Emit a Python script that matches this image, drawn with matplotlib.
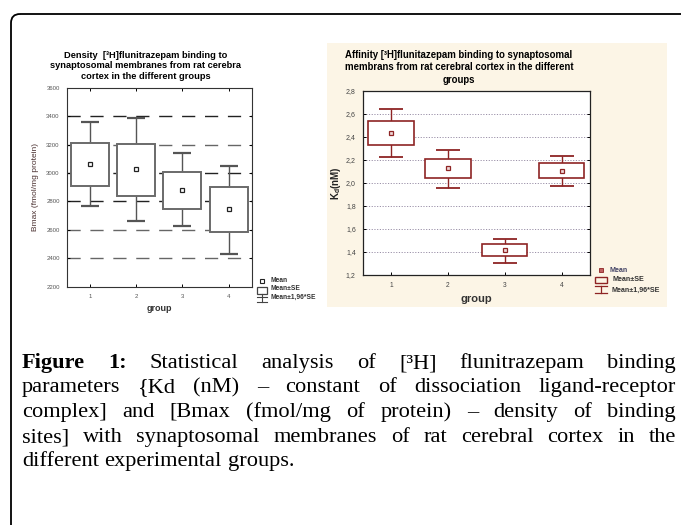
import matplotlib
matplotlib.use('Agg')
import matplotlib.pyplot as plt
from matplotlib.patches import Rectangle, FancyBboxPatch

plt.rcParams['font.family'] = ['Liberation Sans', 'DejaVu Sans']
plt.rcParams['mathtext.fontset'] = 'custom'
plt.rcParams['mathtext.rm'] = 'Liberation Sans:bold'
plt.rcParams['mathtext.bf'] = 'Liberation Sans:bold'

# ---------------- datos ----------------
groups = [1, 2, 3, 4]

# Bmax (fmol/mg protein)
bmax_mean = [3065, 3025, 2882, 2745]
bmax_se_low = [2910, 2840, 2748, 2583]
bmax_se_high = [3213, 3207, 3008, 2899]
bmax_ci_low = [2768, 2662, 2625, 2428]
bmax_ci_high = [3360, 3384, 3138, 3047]
bmax_ticks = [2200, 2400, 2600, 2800, 3000, 3200, 3400, 3600]

# Kd (nM)
kd_mean = [2.435, 2.129, 1.417, 2.105]
kd_se_low = [2.325, 2.039, 1.365, 2.039]
kd_se_high = [2.537, 2.209, 1.466, 2.172]
kd_ci_low = [2.224, 1.958, 1.307, 1.975]
kd_ci_high = [2.641, 2.288, 1.512, 2.236]
kd_ticks = [1.2, 1.4, 1.6, 1.8, 2.0, 2.2, 2.4, 2.6, 2.8]

caption_lines = [
    ["Figure", "1:", "Statistical", "analysis", "of", "[³H]", "flunitrazepam", "binding"],
    "parameters {Kd (nM) – constant of dissociation ligand-receptor".split(),
    "complex] and [Bmax (fmol/mg of protein) – density of binding".split(),
    "sites] with synaptosomal membranes of rat cerebral cortex in the".split(),
    "different experimental groups.".split(),
]

W, H = 681, 525
fig = plt.figure(figsize=(W / 100, H / 100), dpi=100)

# capa de fondo en coordenadas de pixel
bg = fig.add_axes([0, 0, 1, 1], zorder=0)
bg.set_xlim(0, W)
bg.set_ylim(H, 0)
bg.axis('off')

# marco exterior redondeado
bg.add_patch(FancyBboxPatch((11, 14), 720, 560, boxstyle='round,pad=0,rounding_size=9',
                            fill=False, edgecolor='black', lw=1.3, clip_on=False))
# fondo crema del panel derecho
bg.add_patch(Rectangle((327, 43), 340, 264, facecolor='#fcf5e6', edgecolor='none'))


def px_axes(x0, y0, x1, y1):
    return fig.add_axes([x0 / W, 1 - y1 / H, (x1 - x0) / W, (y1 - y0) / H], zorder=1)


# ================= panel izquierdo: Bmax =================
ax1 = px_axes(66.7, 87.7, 251.7, 286.7)
ax1.set_facecolor('white')
ax1.set_xlim(0.5, 4.5)
ax1.set_ylim(2200, 3600)
for i, v in enumerate(bmax_ticks[1:-1]):
    col = '#222222' if v in (3400, 3000, 2800) else '#666666'
    ln = ax1.axhline(v, color=col, lw=1.0, zorder=0)
    ln.set_dashes([9.5, 7])
ax1.errorbar(groups, bmax_mean,
             yerr=[[m - l for m, l in zip(bmax_mean, bmax_ci_low)],
                   [h - m for m, h in zip(bmax_mean, bmax_ci_high)]],
             fmt='none', ecolor='#555555', elinewidth=1.0, capsize=6.5, capthick=1.6, zorder=1)
ax1.bar(groups, [h - l for h, l in zip(bmax_se_high, bmax_se_low)], bottom=bmax_se_low,
        width=0.82, facecolor='white', edgecolor='#6a6a6a', lw=1.4, zorder=2)
ax1.plot(groups, bmax_mean, 's', ms=2.6, mfc='white', mec='#222222', mew=0.9, zorder=3)
ax1.set_yticks(bmax_ticks)
ax1.set_yticklabels([str(t) for t in bmax_ticks], fontsize=4.3, color='#555555')
ax1.set_xticks(groups)
ax1.set_xticklabels([str(g) for g in groups], fontsize=4.3, color='#555555')
ax1.tick_params(direction='in', length=2.5, width=0.7, top=True, right=True, pad=5)
for s in ax1.spines.values():
    s.set_linewidth(0.8)
    s.set_color('#333333')
ax1.set_xlabel('group', fontsize=6.5, fontweight='bold', color='#333333', labelpad=4)
ax1.set_ylabel('Bmax (fmol/mg protein)', fontsize=6, color='#4a3030', labelpad=5)
fig.text(146 / W, 1 - 66 / H,
         'Density  [³H]flunitrazepam binding to\nsynaptosomal membranes from rat cerebra\ncortex in the different groups',
         ha='center', va='center', fontsize=6.7, fontweight='bold', linespacing=1.2, zorder=2)

# leyenda izquierda
bg.plot([262.3], [280.5], 's', ms=2.3, mfc='white', mec='#222222', mew=0.8)
bg.add_patch(Rectangle((256.7, 286.7), 10.5, 7.3, fill=False, edgecolor='#444444', lw=0.9))
bg.plot([262, 262], [294, 301.7], color='#444444', lw=0.8)
bg.plot([256.7, 267.3], [301.7, 301.7], color='#444444', lw=0.8)
bg.plot([256.7, 267.3], [296.7, 296.7], color='#444444', lw=0.8)
bg.text(270.7, 280.3, 'Mean', fontsize=4.8, fontweight='bold', va='center', color='#333333')
bg.text(270.7, 288.5, 'Mean±SE', fontsize=4.8, fontweight='bold', va='center', color='#333333')
bg.text(270.7, 297.3, 'Mean±1,96*SE', fontsize=4.8, fontweight='bold', va='center', color='#333333')

# ================= panel derecho: Kd =================
red = '#8e2424'
ax2 = px_axes(362.7, 90.7, 590, 275)
ax2.set_facecolor('white')
ax2.set_xlim(0.5, 4.5)
ax2.set_ylim(1.2, 2.8)
for v in kd_ticks[1:-1]:
    ln = ax2.axhline(v, color='#9a90a8', lw=0.7, zorder=0)
    ln.set_dashes([1.2, 1.6])
ax2.errorbar(groups, kd_mean,
             yerr=[[m - l for m, l in zip(kd_mean, kd_ci_low)],
                   [h - m for m, h in zip(kd_mean, kd_ci_high)]],
             fmt='none', ecolor=red, elinewidth=1.0, capsize=8.5, capthick=1.3, zorder=1)
ax2.bar(groups, [h - l for h, l in zip(kd_se_high, kd_se_low)], bottom=kd_se_low,
        width=0.8, facecolor='white', edgecolor=red, lw=1.2, zorder=2)
ax2.plot(groups, kd_mean, 's', ms=2.8, mfc='#f0d8d8', mec=red, mew=0.9, zorder=3)
ax2.set_yticks(kd_ticks)
ax2.set_yticklabels([f'{t:.1f}'.replace('.', ',') for t in kd_ticks], fontsize=5, color='#444444')
ax2.set_xticks(groups)
ax2.set_xticklabels([str(g) for g in groups], fontsize=4.8, color='#444444')
ax2.tick_params(direction='in', length=2.5, width=0.7, right=True, pad=5)
for s in ax2.spines.values():
    s.set_linewidth(0.9)
    s.set_color('#222222')
ax2.set_xlabel('group', fontsize=8, fontweight='bold', color='#333333', labelpad=4)
ax2.set_ylabel(r'$\mathbf{K_d (nM)}$', fontsize=7, color='#222222', labelpad=2)
fig.text(459 / W, 1 - 67.5 / H,
         'Affinity [³H]flunitazepam binding to synaptosomal\nmembrans from rat cerebral cortex in the different\ngroups',
         ha='center', va='center', fontsize=6.9, fontweight='bold', linespacing=1.3, zorder=2)

# leyenda derecha
bg.plot([601], [270], 's', ms=2.3, mfc='#c06060', mec=red, mew=0.6)
bg.add_patch(Rectangle((595.3, 276.7), 12, 6.6, fill=False, edgecolor=red, lw=1.0))
bg.plot([601.3, 601.3], [285.7, 293.3], color=red, lw=0.9)
bg.plot([595.3, 607.3], [285.7, 285.7], color=red, lw=0.9)
bg.plot([595.3, 607.3], [293.3, 293.3], color=red, lw=0.9)
bg.text(609.3, 270, 'Mean', fontsize=5.1, fontweight='bold', va='center', color='#444466')
bg.text(612.7, 279.3, 'Mean±SE', fontsize=5.1, fontweight='bold', va='center', color='#333333')
bg.text(611, 290, 'Mean±1,96*SE', fontsize=5.1, fontweight='bold', va='center', color='#333333')

# ================= leyenda de la figura (texto justificado) =================
renderer = fig.canvas.get_renderer()
serif = ['Liberation Serif', 'DejaVu Serif']
x_left, x_right = 22, 676
line_base = [368, 392, 417, 442, 466]

# tamaño de letra a partir del ancho de la ultima linea (algo reducido)
probe = bg.text(0, 0, ' '.join(caption_lines[-1]), fontsize=15, family=serif)
size = 0.9 * 15 * 303 / probe.get_window_extent(renderer).width
probe.remove()

for li, words in enumerate(caption_lines):
    objs = []
    for wi, w in enumerate(words):
        bold = li == 0 and wi < 2
        t = bg.text(0, line_base[li], w, fontsize=size, family=serif,
                    fontweight='bold' if bold else 'normal', va='baseline', ha='left')
        objs.append(t)
    widths = [t.get_window_extent(renderer).width for t in objs]
    if li < len(caption_lines) - 1:
        gap = (x_right - x_left - sum(widths)) / (len(objs) - 1)
    else:
        gap = size * 100 / 72 * 0.25
    x = x_left
    for t, w in zip(objs, widths):
        t.set_x(x)
        x += w + gap

fig.savefig('out.png', dpi=100)
